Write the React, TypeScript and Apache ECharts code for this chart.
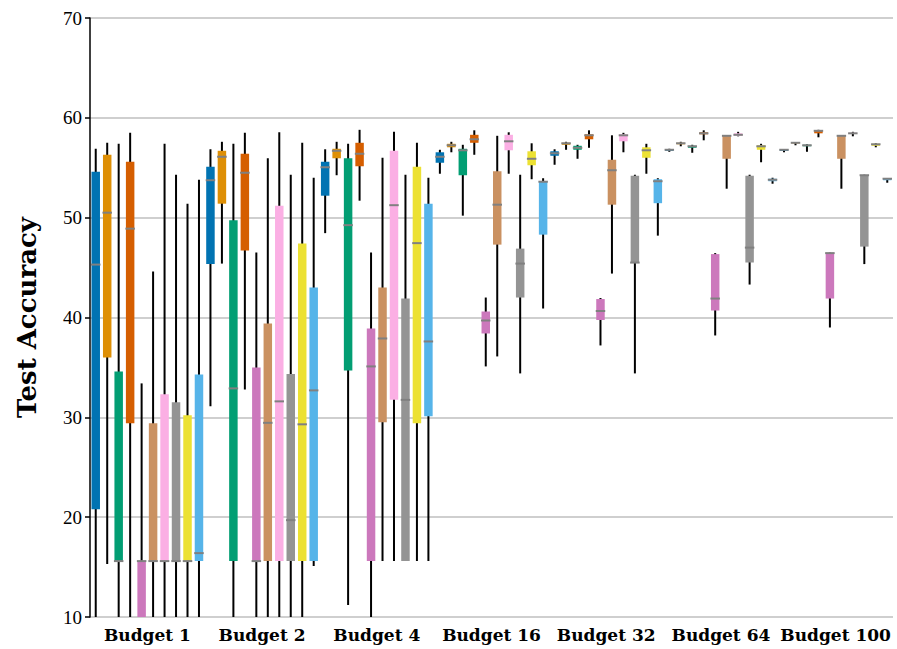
import React, { useEffect, useRef } from "react";
import * as echarts from "echarts";

const categories = ["Budget 1", "Budget 2", "Budget 4", "Budget 16", "Budget 32", "Budget 64", "Budget 100"];
const colors = ["#0173b2", "#de8f05", "#029e73", "#d55e00", "#cc78bc", "#ca9161", "#fbafe4", "#949494", "#ece133", "#56b4e9"];
const methods = ["M1", "M2", "M3", "M4", "M5", "M6", "M7", "M8", "M9", "M10"];
const yTicks = { min: 10, max: 70, interval: 10 };

// each entry: [whiskerLow, q1, median, q3, whiskerHigh]
const budget1 = [
  [5, 20.8, 45.3, 54.6, 56.9],
  [15.3, 36.0, 50.5, 56.3, 57.5],
  [5, 15.6, 15.6, 34.6, 57.4],
  [5, 29.4, 48.9, 55.6, 58.5],
  [5, 5, 15.6, 15.6, 33.4],
  [5, 15.6, 15.6, 29.4, 44.6],
  [5, 15.6, 15.6, 32.3, 57.4],
  [5, 15.6, 15.6, 31.5, 54.3],
  [5, 15.6, 15.6, 30.2, 51.4],
  [5, 15.6, 16.4, 34.3, 53.8],
];
const budget2 = [
  [31.1, 45.35, 53.75, 55.1, 56.85],
  [45.4, 51.4, 56.1, 56.7, 57.6],
  [5, 15.6, 32.9, 49.75, 57.4],
  [32.8, 46.7, 54.5, 56.4, 58.5],
  [5, 15.6, 15.6, 35.0, 46.5],
  [5, 15.6, 29.45, 39.4, 55.95],
  [5, 15.6, 31.6, 51.2, 58.55],
  [5, 15.6, 19.7, 34.35, 54.3],
  [5, 15.6, 29.3, 47.4, 57.5],
  [15.1, 15.6, 32.7, 43.0, 54.0],
];
const budget4 = [
  [48.45, 52.2, 55.05, 55.6, 56.85],
  [54.25, 55.95, 56.7, 56.9, 57.6],
  [11.2, 34.7, 49.25, 55.95, 57.4],
  [51.7, 55.15, 56.4, 57.5, 58.8],
  [5, 15.6, 35.1, 38.9, 46.5],
  [15.6, 29.5, 37.9, 43.0, 56.0],
  [15.6, 31.75, 51.25, 56.7, 58.6],
  [15.6, 15.6, 31.75, 41.9, 54.3],
  [15.6, 29.4, 47.45, 55.1, 57.5],
  [15.6, 30.1, 37.6, 51.4, 54.0],
];
const budget16 = [
  [54.4, 55.5, 56.1, 56.55, 56.8],
  [56.55, 57.05, 57.25, 57.4, 57.6],
  [50.2, 54.25, 56.75, 56.9, 57.3],
  [56.3, 57.5, 57.85, 58.3, 58.75],
  [35.1, 38.4, 39.7, 40.6, 42.0],
  [36.1, 47.3, 51.3, 54.65, 58.2],
  [54.4, 56.75, 57.65, 58.3, 58.55],
  [34.4, 42.0, 45.4, 46.9, 54.3],
  [53.85, 55.25, 55.9, 56.65, 57.45],
  [40.9, 48.3, 53.6, 53.65, 53.95],
];
const budget32 = [
  [55.3, 56.2, 56.45, 56.65, 56.85],
  [56.8, 57.3, 57.45, 57.5, 57.6],
  [55.9, 56.8, 57.0, 57.2, 57.3],
  [57.0, 57.85, 58.25, 58.35, 58.75],
  [37.2, 39.75, 40.65, 41.85, 41.95],
  [44.4, 51.3, 54.75, 55.8, 58.25],
  [56.55, 57.65, 58.25, 58.35, 58.5],
  [34.4, 45.5, 45.5, 54.2, 54.3],
  [54.4, 56.0, 56.75, 57.05, 57.4],
  [48.2, 51.45, 53.65, 53.85, 53.95],
];
const budget64 = [
  [56.6, 56.7, 56.8, 56.82, 56.9],
  [57.15, 57.35, 57.45, 57.5, 57.6],
  [56.5, 57.0, 57.15, 57.2, 57.3],
  [57.75, 58.35, 58.45, 58.55, 58.75],
  [38.2, 40.7, 41.9, 46.35, 46.45],
  [52.9, 55.9, 58.2, 58.2, 58.25],
  [58.15, 58.2, 58.3, 58.45, 58.6],
  [43.3, 45.5, 47.0, 54.2, 54.3],
  [55.55, 56.8, 57.15, 57.25, 57.4],
  [53.4, 53.65, 53.8, 53.9, 54.0],
];
const budget100 = [
  [56.55, 56.7, 56.8, 56.8, 56.85],
  [57.25, 57.45, 57.5, 57.5, 57.55],
  [56.6, 57.15, 57.25, 57.3, 57.35],
  [58.05, 58.45, 58.7, 58.75, 58.8],
  [39.0, 41.9, 46.45, 46.45, 46.5],
  [52.9, 55.9, 58.2, 58.2, 58.25],
  [58.15, 58.4, 58.45, 58.5, 58.6],
  [45.35, 47.1, 54.25, 54.25, 54.3],
  [57.05, 57.2, 57.35, 57.4, 57.45],
  [53.5, 53.75, 53.9, 53.9, 53.95],
];

const budgets = [budget1, budget2, budget4, budget16, budget32, budget64, budget100];

export default function App() {
  const ref = useRef<HTMLDivElement>(null);
  useEffect(() => {
    if (!ref.current) return;
    const chart = echarts.init(ref.current, null, { renderer: "svg" });
    const nHue = methods.length;
    const series = methods.map((name, h) => ({
      type: "custom",
      name,
      data: budgets.map((b, ci) => [ci, ...b[h]]),
      encode: { x: 0, y: [1, 2, 3, 4, 5] },
      renderItem: (params: any, api: any) => {
        const ci = api.value(0);
        const clamp = (v: number) => Math.max(yTicks.min, Math.min(yTicks.max, v));
        const band = api.size([1, 0])[0];
        const slot = band / nHue;
        const cx = api.coord([ci, yTicks.min])[0] + (h - (nHue - 1) / 2) * slot;
        const py = (v: number) => api.coord([ci, clamp(v)])[1];
        const lo = py(api.value(1));
        const q1 = py(api.value(2));
        const med = py(api.value(3));
        const q3 = py(api.value(4));
        const hi = py(api.value(5));
        const bw = slot * 0.74;
        const children: any[] = [
          {
            type: "line",
            shape: { x1: cx, y1: lo, x2: cx, y2: hi },
            style: { stroke: "#000", lineWidth: 2 },
          },
          {
            type: "rect",
            shape: { x: cx - bw / 2, y: q3, width: bw, height: Math.max(q1 - q3, 0.001) },
            style: { fill: colors[h] },
          },
          {
            type: "line",
            shape: { x1: cx - bw / 2 - 0.5, y1: med, x2: cx + bw / 2 + 0.5, y2: med },
            style: { stroke: "#808080", lineWidth: 2 },
          },
        ];
        return { type: "group", children };
      },
      z: 3,
    }));
    chart.setOption({
      animation: false,
      backgroundColor: "#ffffff",
      grid: { left: 90, right: 4, top: 18, bottom: 32, containLabel: false },
      xAxis: {
        type: "category",
        data: categories,
        boundaryGap: true,
        axisLine: { show: false },
        axisTick: { show: false },
        axisLabel: {
          interval: 0,
          margin: 9,
          color: "#000",
          fontFamily: "DejaVu Serif",
          fontWeight: "bold",
          fontSize: 17,
        },
        splitLine: { show: false },
      },
      yAxis: {
        type: "value",
        min: yTicks.min,
        max: yTicks.max,
        interval: yTicks.interval,
        name: "Test Accuracy",
        nameLocation: "middle",
        nameGap: 50,
        nameTextStyle: {
          color: "#000",
          fontFamily: "DejaVu Serif",
          fontWeight: "bold",
          fontSize: 26,
        },
        axisLine: { show: true, lineStyle: { color: "#000", width: 1.5 } },
        axisTick: { show: true, length: 5, lineStyle: { color: "#000", width: 1.5 } },
        axisLabel: {
          margin: 8,
          color: "#000",
          fontFamily: "Liberation Serif",
          fontSize: 19,
        },
        splitLine: { show: true, lineStyle: { color: "#bfbfbf", width: 1.5 } },
      },
      series,
    });
    return () => chart.dispose();
  }, []);
  return (
    <div
      ref={ref}
      style={{ position: "fixed", left: 0, top: 0, width: 897, height: 649, background: "#fff" }}
    />
  );
}
